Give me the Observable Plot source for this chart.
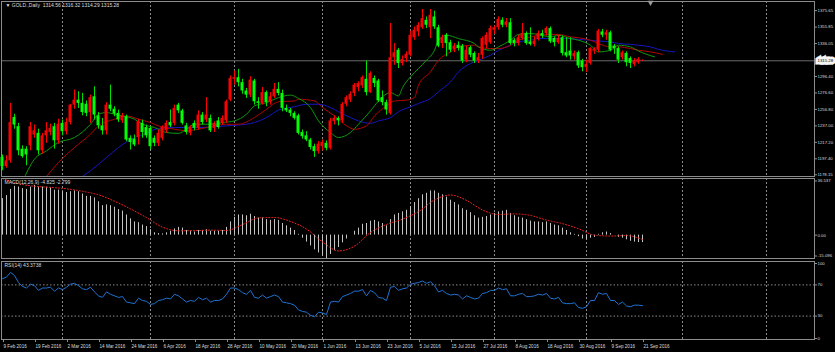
<!DOCTYPE html>
<html><head><meta charset="utf-8">
<script src="https://cdn.jsdelivr.net/npm/d3@7"></script>
<script src="https://cdn.jsdelivr.net/npm/@observablehq/plot@0.6"></script>
<style>
body{margin:0;background:#000;}
#wrap{position:relative;width:835px;height:352px;background:#000;overflow:hidden;}
#wrap > svg{position:absolute;left:0;}
</style></head><body><div id="wrap"></div>
<script>
// ---------- data ----------
const symbolName = "GOLD.,Daily";
const dateLabels = ["9 Feb 2016","19 Feb 2016","2 Mar 2016","14 Mar 2016","24 Mar 2016","6 Apr 2016","18 Apr 2016","28 Apr 2016","10 May 2016","20 May 2016","1 Jun 2016","13 Jun 2016","23 Jun 2016","5 Jul 2016","15 Jul 2016","27 Jul 2016","8 Aug 2016","18 Aug 2016","30 Aug 2016","9 Sep 2016","21 Sep 2016"];
const dateLabelBars = [0,8,16,24,32,40,48,56,64,72,80,88,96,104,112,120,128,136,144,152,160];
const monthStartBars = [15,37,58,80,102,123,146,170,191];
const priceTicks = [1375.65,1355.85,1336.05,1296.40,1276.60,1256.80,1237.00,1217.20,1197.40,1178.15];
const priceDomain = [1176.1,1386.6];
const macdDomain = [-15.096,36.537];
const shiftMarkerBar = 162;

const open = [1199,1188,1195,1247,1236,1209,1209,1213,1226,1228,
1207,1225,1229,1236,1219,1240,1230,1241,1262,1268,
1264,1263,1253,1272,1249,1237,1231,1262,1257,1252,
1243,1248,1222,1221,1223,1240,1235,1234,1222,1216,
1222,1231,1241,1240,1262,1255,1237,1228,1240,1234,
1250,1244,1246,1234,1243,1240,1243,1268,1293,1295,
1289,1279,1274,1291,1266,1264,1277,1265,1272,1281,
1276,1258,1256,1252,1249,1229,1225,1220,1212,1206,
1212,1216,1210,1242,1246,1243,1263,1268,1276,1283,
1285,1293,1277,1294,1291,1271,1265,1252,1319,1328,
1312,1318,1322,1343,1350,1355,1364,1355,1368,1355,
1336,1346,1337,1329,1334,1333,1316,1331,1324,1315,
1322,1334,1337,1352,1355,1364,1358,1361,1340,1336,
1342,1348,1338,1335,1341,1348,1348,1354,1342,1337,
1343,1325,1327,1320,1325,1315,1307,1312,1327,1328,
1350,1346,1349,1333,1330,1319,1324,1318,1311,1313,
1314.56];
const high = [1202,1201,1264,1251,1240,1213,1212,1241,1238,1233,
1228,1241,1239,1240,1245,1244,1246,1263,1280,1278,
1276,1267,1274,1284,1253,1246,1265,1286,1260,1256,
1252,1250,1225,1226,1245,1244,1238,1236,1225,1232,
1237,1243,1256,1262,1264,1257,1240,1237,1243,1255,
1253,1271,1250,1242,1247,1249,1268,1297,1303,1305,
1293,1282,1296,1293,1271,1283,1279,1277,1288,1289,
1280,1262,1258,1254,1251,1232,1230,1222,1215,1218,
1220,1219,1246,1249,1248,1265,1273,1278,1288,1290,
1297,1315,1302,1297,1293,1279,1268,1360,1336,1330,
1321,1326,1351,1356,1361,1377,1368,1377,1375,1358,
1346,1348,1340,1336,1338,1335,1333,1333,1326,1324,
1344,1349,1357,1357,1368,1367,1366,1366,1342,1346,
1360,1350,1355,1344,1351,1352,1356,1356,1344,1346,
1345,1343,1343,1327,1327,1317,1316,1331,1331,1353,
1353,1352,1351,1335,1332,1327,1326,1320,1318,1319,
1316.32];
const low = [1183,1186,1192,1233,1201,1198,1189,1207,1222,1202,
1203,1216,1225,1209,1215,1225,1226,1238,1257,1258,
1249,1248,1240,1244,1233,1226,1226,1254,1248,1241,
1240,1218,1208,1212,1214,1222,1222,1208,1212,1212,
1219,1228,1235,1237,1252,1238,1226,1225,1231,1232,
1238,1241,1229,1229,1233,1238,1240,1266,1286,1284,
1275,1270,1271,1262,1257,1262,1260,1262,1270,1273,
1254,1253,1248,1244,1226,1221,1218,1208,1199,1203,
1207,1207,1208,1238,1237,1240,1260,1265,1272,1278,
1282,1273,1276,1283,1265,1261,1250,1250,1310,1306,
1309,1313,1320,1340,1344,1353,1354,1342,1353,1331,
1330,1320,1325,1325,1327,1312,1313,1319,1312,1312,
1317,1330,1335,1347,1352,1355,1355,1334,1332,1333,
1340,1334,1333,1332,1339,1342,1345,1336,1332,1335,
1321,1319,1316,1316,1306,1302,1301,1310,1323,1325,
1343,1340,1326,1323,1312,1316,1308,1306,1308,1311,
1314.29];
const close = [1188,1195,1241,1238,1207,1200,1202,1236,1231,1207,
1225,1231,1234,1219,1239,1230,1241,1262,1268,1264,
1253,1252,1271,1250,1237,1231,1262,1257,1251,1244,
1249,1220,1217,1214,1242,1229,1225,1212,1216,1228,
1235,1240,1237,1258,1255,1240,1229,1235,1234,1250,
1241,1250,1231,1240,1235,1246,1266,1294,1295,1289,
1279,1274,1292,1266,1264,1277,1265,1272,1281,1276,
1258,1255,1252,1246,1228,1224,1220,1211,1206,1215,
1217,1210,1243,1246,1243,1263,1271,1275,1286,1288,
1295,1277,1300,1288,1267,1265,1256,1319,1325,1312,
1317,1323,1346,1352,1358,1366,1358,1370,1356,1333,
1343,1336,1328,1333,1330,1315,1328,1322,1315,1319,
1342,1346,1354,1355,1365,1358,1362,1336,1336,1343,
1348,1336,1335,1339,1348,1345,1354,1338,1337,1342,
1324,1321,1321,1324,1309,1307,1311,1330,1329,1351,
1346,1349,1328,1330,1316,1325,1313,1312,1315,1317,
1315.28];

// Alligator lines (bar index where read, value read)
const jawBars = [18,22,26,29,33,36,39,43,46,49,53,56,59,63,66,69,73,76,79,82,84,87,89,92,94,97,99,102,104,107,109,112,114,117,119,122,124,127,129,132,134,137,139,142,144,147,149,152,154,157,159,162,164,168];
const jawVals = [1170,1183,1199,1211,1223,1228,1234,1235,1235,1235,1236,1237,1238,1241,1247,1256,1260,1263,1263,1259,1254,1247,1243,1240,1243,1247,1254,1260,1264,1270,1278,1290,1302,1312,1316,1322,1328,1334,1338,1340,1342,1342,1342,1342,1341,1340,1339,1338,1336,1335,1334,1332,1329,1326];
const teethBars = [10,14,18,22,24,28,31,34,37,39,43,46,49,53,56,59,63,66,69,73,74,78,80,83,86,88,91,93,96,98,101,103,104,107,109,112,114,118,119,122,124,127,129,132,134,137,139,142,144,147,149,152,154,157,159,162,165];
const teethVals = [1170,1193,1211,1227,1237,1245,1249,1245,1241,1237,1233,1231,1233,1237,1239,1239,1247,1257,1266,1267,1269,1267,1259,1249,1237,1233,1237,1249,1261,1267,1268,1271,1286,1302,1316,1326,1332,1334,1332,1330,1330,1334,1340,1344,1346,1347,1347,1344,1343,1340,1336,1332,1332,1330,1328,1326,1323];
const lipsBars = [5,8,11,14,18,22,24,26,28,30,33,35,38,41,44,46,48,50,53,55,58,61,63,66,69,72,74,77,79,82,84,87,89,92,94,97,99,100,102,104,106,108,109,111,114,118,119,122,124,127,129,132,134,137,139,142,144,147,149,152,154,157,159,163];
const lipsVals = [1170,1197,1207,1217,1223,1239,1251,1253,1251,1249,1245,1239,1235,1229,1228,1233,1239,1239,1239,1241,1243,1251,1261,1265,1271,1274,1270,1259,1243,1229,1223,1229,1239,1255,1267,1277,1273,1283,1296,1306,1316,1328,1340,1346,1342,1336,1332,1328,1332,1340,1347,1348,1347,1344,1346,1342,1340,1334,1326,1328,1334,1332,1327,1320];

// MACD main (histogram) per bar, signal read every 4 bars
const macdMain = [23.5,25.5,29.5,31.5,31,30,29.5,31,32,31,
31,31,30.5,29,29,28,27.5,28,28.5,28,
26.5,25,25,24,21.5,19,19.5,19,18,16.5,
15.5,13,10.5,8.5,8,6.5,5.5,3.5,1.5,1,
0.8,1.5,2.5,4,5,4.5,3,2.5,2,3,
3,3.5,2.5,2.5,2.5,3,5,8.5,11.5,13,
13,12.5,13.5,12,11,11,10,9.5,10,9.5,
7.5,6,4.5,3,0.5,-2,-4.5,-7,-9.5,-11.5,
-13.5,-15.1,-12.5,-10,-8,-5,-2.5,0,2.5,4.5,
7,7.5,9,9.5,8.5,7.5,6,10,13,14,
15,16,18.5,21,23.5,26,27,28.5,28.5,27,
26,24.5,22.5,21,19.5,17,16,14.5,12.5,11,
11.5,12,13,14,15,15.5,16,14,12.5,11.5,
11,10,9,8.5,8.5,8,8.5,7.5,6.5,6,
4.5,3,1.5,0.5,-1,-2.5,-3,-2,-1.5,0.5,
1.5,2,1,0,-1.5,-2,-3,-4,-4.5,-4.8,
-4.825];
const signalBars = [0,4,8,12,16,20,24,28,32,36,40,44,48,52,56,60,64,68,72,76,80,84,88,92,96,100,104,108,112,116,120,124,128,132,136,140,144,148,152,156,160];
const signalVals = [36.5,33.2,31.5,30.8,29.9,28.3,26,21.9,16.9,11.3,5.1,2.8,2.9,3.2,3,6.8,11.1,11.4,8.8,3.9,-4.4,-10.2,-7.1,1.7,6.9,10.3,15.2,22.7,25.9,22.4,16.2,13.3,13.7,12.7,9.7,7.4,4.1,0,-0.6,-0.3,-2.799];

const rsi = [78,80,86,82,73,68,66,71,69,63,
66,66,67,62,66,64,67,71,72,69,
65,64,67,61,56,54,61,58,56,54,
55,48,47,46,53,50,49,45,46,50,
51,53,52,58,56,52,48,50,49,54,
51,53,48,50,50,52,58,66,66,64,
60,58,63,54,53,57,53,55,57,55,
48,47,46,44,38,36,35,31,29,35,
34,32,48,49,48,55,57,59,62,62,
64,56,63,60,54,53,50,67,68,63,
65,66,71,72,73,75,72,74,69,61,
63,59,57,58,57,52,56,54,52,53,
59,60,63,63,66,64,65,56,56,58,
59,55,55,56,58,57,59,53,52,54,
47,46,46,47,41,40,42,50,50,60,
58,59,50,50,45,48,43,42,44,44,
43.3738];
const rsiLevels = [70,30];

// ---------- tables ----------
const bars = open.map((o,i)=>({i,o,h:high[i],l:low[i],c:close[i]}));
const upBars = bars.filter(d=>d.c>=d.o);
const downBars = bars.filter(d=>d.c<d.o);
const toPts = (xs,ys)=>xs.map((x,k)=>({x,y:ys[k]}));
const last = bars.length-1;

const W = 835;
const xDomain = [-0.25, 203];
const FONT = "'Liberation Sans', Arial, sans-serif";
const TXT = "#dcdcdc", GRID = "#8a8a8a", FRAME = "#8c8c8c";
const AX = "4.3px";
const baseStyle = {background:"transparent", color:TXT, fontFamily:FONT, fontSize:"5px", overflow:"visible"};
const yAxisOpts = {anchor:"right", tickSize:2, tickPadding:1, stroke:"#909090", fill:TXT, label:null, fontSize:AX};

function place(svg, top){ svg.style.top = top+"px"; document.getElementById("wrap").appendChild(svg); }

// ---------- main price panel ----------
const titleText = `▼ ${symbolName}  ${open[last].toFixed(2)} ${high[last].toFixed(2)} ${low[last].toFixed(2)} ${close[last].toFixed(2)}`;
const main = Plot.plot({
  width: W, height: 178, marginLeft: 1, marginRight: 21, marginTop: 1, marginBottom: 2,
  x: {domain: xDomain, axis: null},
  y: {domain: priceDomain},
  style: baseStyle,
  marks: [
    Plot.ruleX(monthStartBars, {stroke: GRID, strokeDasharray: "2,2"}),
    Plot.ruleY([close[last]], {stroke: "#6a6a6a"}),
    Plot.line(toPts(jawBars,jawVals), {x:"x", y:"y", stroke:"#1616c8", strokeWidth:1, curve:"monotone-x", clip:true}),
    Plot.line(toPts(teethBars,teethVals), {x:"x", y:"y", stroke:"#b80000", strokeWidth:1, curve:"monotone-x", clip:true}),
    Plot.line(toPts(lipsBars,lipsVals), {x:"x", y:"y", stroke:"#0c9a0c", strokeWidth:1, curve:"monotone-x", clip:true}),
    Plot.ruleX(upBars, {x:"i", y1:"l", y2:"h", stroke:"#ff0000"}),
    Plot.ruleX(downBars, {x:"i", y1:"l", y2:"h", stroke:"#00e000"}),
    Plot.rect(upBars, {x1:d=>d.i-0.375, x2:d=>d.i+0.375, y1:"o", y2:"c", fill:"#ff0000"}),
    Plot.rect(downBars, {x1:d=>d.i-0.375, x2:d=>d.i+0.375, y1:"c", y2:"o", fill:"#00ff00"}),
    Plot.frame({stroke: FRAME}),
    Plot.axisY(priceTicks, {...yAxisOpts, tickFormat:d=>d.toFixed(2)}),
    Plot.text([close[last]], {y:d=>d, frameAnchor:"right", dx:3, textAnchor:"start", text:d=>d.toFixed(2), fill:"#000", stroke:"#f4f4f4", strokeWidth:5, strokeLinejoin:"miter", fontSize:AX}),
    Plot.text([titleText], {frameAnchor:"top-left", dx:4, dy:2, textAnchor:"start", lineAnchor:"top", text:d=>d, fill:TXT}),
    Plot.dot([shiftMarkerBar], {x:d=>d, frameAnchor:"top", symbol:"triangle", rotate:180, r:2.2, fill:"#9a9a9a", dy:1})
  ]
});
place(main, 0);

// ---------- MACD panel ----------
const macdLabel = `MACD(12,26,9) ${macdMain[last].toFixed(3)} ${signalVals[signalVals.length-1].toFixed(3)}`;
const macdPanel = Plot.plot({
  width: W, height: 83, marginLeft: 1, marginRight: 21, marginTop: 1, marginBottom: 2,
  x: {domain: xDomain, axis: null},
  y: {domain: macdDomain},
  style: baseStyle,
  marks: [
    Plot.ruleX(monthStartBars, {stroke: GRID, strokeDasharray: "2,2"}),
    Plot.ruleX(bars, {x:"i", y1:0, y2:d=>macdMain[d.i], stroke:"#c4c4c4"}),
    Plot.line(toPts(signalBars,signalVals), {x:"x", y:"y", stroke:"#ff2020", strokeWidth:1, strokeDasharray:"1,2", curve:"monotone-x", clip:true}),
    Plot.frame({stroke: FRAME}),
    Plot.axisY([macdDomain[1]], {...yAxisOpts, tickFormat:d=>d.toFixed(3), dy:2.5}),
    Plot.axisY([0], {...yAxisOpts, tickFormat:d=>d.toFixed(2)}),
    Plot.axisY([macdDomain[0]], {...yAxisOpts, tickFormat:d=>d.toFixed(3), dy:-2.5}),
    Plot.text([macdLabel], {frameAnchor:"top-left", dx:3, dy:2, textAnchor:"start", lineAnchor:"top", text:d=>d, fill:TXT})
  ]
});
place(macdPanel, 177);

// ---------- RSI panel ----------
const rsiLabel = `RSI(14) ${rsi[last].toFixed(4)}`;
const rsiPanel = Plot.plot({
  width: W, height: 93, marginLeft: 1, marginRight: 21, marginTop: 2, marginBottom: 13,
  x: {domain: xDomain},
  y: {domain: [0,100]},
  style: baseStyle,
  marks: [
    Plot.ruleX(monthStartBars, {stroke: GRID, strokeDasharray: "2,2"}),
    Plot.ruleY(rsiLevels, {stroke: GRID, strokeDasharray: "1.5,2"}),
    Plot.line(rsi.map((v,i)=>({x:i, y:v})), {x:"x", y:"y", stroke:"#1e74d8", strokeWidth:1}),
    Plot.frame({stroke: FRAME}),
    Plot.axisY([100], {...yAxisOpts, dy:2}),
    Plot.axisY(rsiLevels, {...yAxisOpts}),
    Plot.axisY([0], {...yAxisOpts, dy:-1}),
    Plot.axisX(dateLabelBars, {anchor:"bottom", tickSize:3, tickPadding:2, textAnchor:"start", dx:1,
      tickFormat:d=>dateLabels[dateLabelBars.indexOf(d)], stroke:"#909090", fill:TXT, label:null, fontSize:"4.6px"}),
    Plot.text([rsiLabel], {frameAnchor:"top-left", dx:3, dy:2, textAnchor:"start", lineAnchor:"top", text:d=>d, fill:TXT})
  ]
});
place(rsiPanel, 259);
</script>
</body></html>
